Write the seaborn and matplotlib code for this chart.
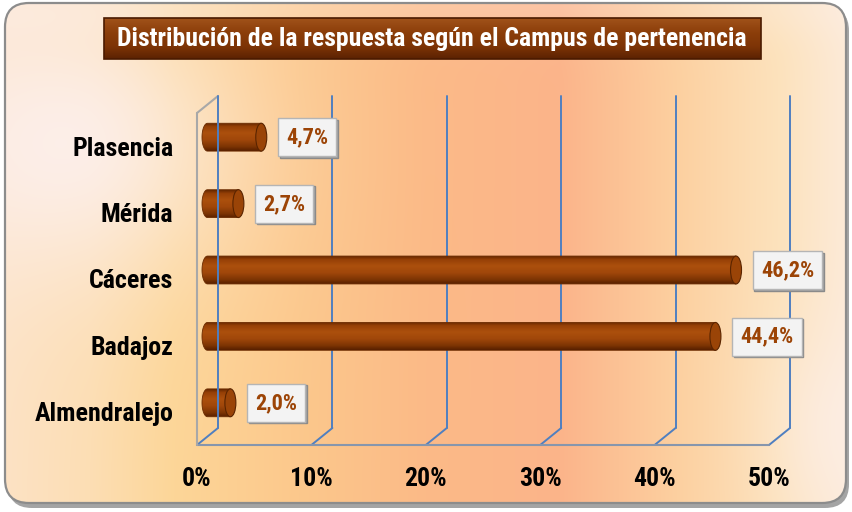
import numpy as np
import matplotlib
matplotlib.use('Agg')
import matplotlib.pyplot as plt
import seaborn as sns
from matplotlib import font_manager
from matplotlib.patches import FancyBboxPatch, Rectangle, Ellipse, PathPatch
from matplotlib.path import Path

# Datos
campus = ['Plasencia', 'Mérida', 'Cáceres', 'Badajoz', 'Almendralejo']
porcentaje = [4.7, 2.7, 46.2, 44.4, 2.0]
etiquetas = ['4,7%', '2,7%', '46,2%', '44,4%', '2,0%']
ticks = [0, 10, 20, 30, 40, 50]
tick_labels = ['0%', '10%', '20%', '30%', '40%', '50%']
titulo = 'Distribución de la respuesta según el Campus de pertenencia'

# pick a condensed font if there is one
names = {f.name for f in font_manager.fontManager.ttflist}
narrow = 'Liberation Sans'
escala = 0.85
for cand in ['Liberation Sans Narrow', 'DejaVu Sans Condensed', 'Roboto Condensed']:
    if cand in names:
        narrow = cand
        escala = 1.0
        break

sns.set_theme(style='white')
plt.rcParams['font.family'] = [narrow, 'DejaVu Sans']

W, H = 852, 512
fig = plt.figure(figsize=(W / 100, H / 100), dpi=100)

# ---- background panel (pixel coords) ----
bg = fig.add_axes([0, 0, 1, 1])
bg.set_xlim(0, W)
bg.set_ylim(H, 0)
bg.axis('off')

xs = np.linspace(0, 1, W)
stops = [0.0, 0.1, 0.2, 0.35, 0.5, 0.66, 0.8, 0.92, 1.0]
cols = np.array([
    [253, 226, 196], [253, 222, 180], [253, 214, 152], [252, 200, 140],
    [251, 186, 135], [251, 180, 138], [253, 208, 160], [253, 226, 188],
    [253, 234, 215]]) / 255.0
base = np.stack([np.interp(xs, stops, cols[:, k]) for k in range(3)], axis=1)
img = np.repeat(base[None, :, :], H, axis=0)
yy, xx = np.mgrid[0:1:H * 1j, 0:1:W * 1j]
glow = 0.8 * np.exp(-((xx - 0.08) / 0.2) ** 2 - ((yy - 0.28) / 0.28) ** 2)
glow += 0.25 * np.exp(-(yy / 0.07) ** 2)
glow += 0.4 * np.exp(-((xx - 0.98) / 0.08) ** 2 - ((yy - 0.85) / 0.2) ** 2)
glow = np.clip(glow, 0, 0.85)[:, :, None]
tint = np.array([252, 242, 244]) / 255.0
img = img * (1 - glow) + tint * glow

sombra = FancyBboxPatch((8, 7), 841, 501, boxstyle='round,pad=0,rounding_size=24',
                        fc='#5a5a5a', ec='none', alpha=0.55)
bg.add_patch(sombra)
panel = FancyBboxPatch((5, 3), 841, 500, boxstyle='round,pad=0,rounding_size=24',
                       fc='none', ec='#8c8c8c', lw=1.6, zorder=3)
bg.add_patch(panel)
im = bg.imshow(img, extent=[5, 846, 503, 3], aspect='auto', zorder=2)
im.set_clip_path(panel)

# title box
tcol = np.array([[160, 82, 26], [140, 62, 10], [125, 52, 6], [92, 34, 2]]) / 255.0
tgrad = np.stack([np.interp(np.linspace(0, 1, 40), [0, 0.35, 0.7, 1], tcol[:, k])
                  for k in range(3)], axis=1)[:, None, :]
bg.imshow(tgrad, extent=[104, 761, 59, 18], aspect='auto', zorder=4)
bg.add_patch(Rectangle((104, 18), 657, 41, fc='none', ec='#4a1a00', lw=1.2, zorder=5))
bg.text(432, 39, titulo, ha='center', va='center', color='white',
        fontsize=18.5 * escala, fontweight='bold', zorder=6)
bg.set_xlim(0, W)
bg.set_ylim(H, 0)

# ---- main plot ----
L, R, T, B = 197, 769, 113, 445
ax = fig.add_axes([L / W, 1 - B / H, (R - L) / W, (B - T) / H])
ax.patch.set_alpha(0)

sns.barplot(x=porcentaje, y=campus, orient='h', width=0.42, color='#a34a0a', ax=ax)
ax.set_xlim(0, 50)
ax.set_ylim(4.5, -0.5)

px_x = (R - L) / 50.0      # pixels per unit in x
px_y = (B - T) / 5.0       # pixels per category
dx, dy = 21 / px_x, -17 / px_y          # depth of the 3D box
mdx, mdy = 10.5 / px_x, -9 / px_y       # bars sit half way in

# back wall gridlines and floor
azul = '#4f7fc0'
for t in ticks:
    ax.plot([t + dx, t + dx], [4.5 + dy, -0.5 + dy], color=azul, lw=1.4,
            clip_on=False, zorder=1 if t else 6)
    ax.plot([t, t + dx], [4.5, 4.5 + dy], color=azul, lw=1.4, clip_on=False, zorder=1)
ax.plot([0, 50], [4.5, 4.5], color='#8696ad', lw=1.5, clip_on=False, zorder=1)
ax.plot([0, 0], [4.5, -0.5], color='#a8a8a8', lw=1.5, clip_on=False, zorder=1)
ax.plot([0, dx], [-0.5, -0.5 + dy], color='#a8a8a8', lw=1.5, clip_on=False, zorder=1)

# cylinders
ccol = np.array([[104, 40, 0], [150, 64, 6], [172, 80, 13], [160, 71, 10],
                 [124, 52, 3], [88, 32, 0]]) / 255.0
cgrad = np.stack([np.interp(np.linspace(0, 1, 60), [0, 0.12, 0.35, 0.6, 0.85, 1],
                            ccol[:, k]) for k in range(3)], axis=1)[:, None, :]
rx = 5.5 / px_x
for i, p in enumerate(ax.patches):
    p.set_facecolor('none')
    p.set_edgecolor('none')
    x0, w, h = p.get_x(), p.get_width(), p.get_height()
    yc = p.get_y() + h / 2 + mdy
    ry = h / 2
    xl, xr = x0 + mdx, x0 + w + mdx
    ang = np.linspace(np.pi / 2, 3 * np.pi / 2, 30)
    verts = [(xl + rx * np.cos(a), yc + ry * np.sin(a)) for a in ang]
    verts += [(xr, yc - ry), (xr, yc + ry), (xl, yc + ry)]
    cuerpo = PathPatch(Path(verts, closed=True), fc='none', ec='#6b2b00', lw=0.6, zorder=4)
    ax.add_patch(cuerpo)
    g = ax.imshow(cgrad, extent=[xl - rx, xr, yc + ry, yc - ry], aspect='auto', zorder=3)
    g.set_clip_path(cuerpo)
    ax.add_patch(Ellipse((xr, yc), 2 * rx, 2 * ry, fc='#9a4407', ec='#5a2400',
                         lw=0.8, zorder=5))

ax.set_xlim(0, 50)
ax.set_ylim(4.5, -0.5)

# data labels (grey copy underneath gives the bevel shadow)
for i, (v, lab) in enumerate(zip(porcentaje, etiquetas)):
    ax.annotate(lab, xy=(v, i), xytext=(26.5, 5.3), textcoords='offset points',
                ha='left', va='center', fontsize=16 * escala, fontweight='bold',
                color='#a3a3a3', zorder=7,
                bbox=dict(boxstyle='square,pad=0.36', fc='#a3a3a3', ec='#8a8a8a', lw=1))
    ax.annotate(lab, xy=(v, i), xytext=(25.5, 6.3), textcoords='offset points',
                ha='left', va='center', fontsize=16 * escala, fontweight='bold',
                color='#9c4406', zorder=8,
                bbox=dict(boxstyle='square,pad=0.36', fc='#f3f3f3', ec='#b5b5b5', lw=1))

ax.set_xticks(ticks, tick_labels)
ax.tick_params(axis='x', length=0, pad=16, labelsize=18.5 * escala)
ax.tick_params(axis='y', length=0, pad=17, labelsize=18.7 * escala)
for lab in ax.get_xticklabels() + ax.get_yticklabels():
    lab.set_fontweight('bold')
    lab.set_color('black')
ax.set_xlabel('')
ax.set_ylabel('')
sns.despine(ax=ax, left=True, bottom=True)
ax.grid(False)

fig.savefig('out.png', dpi=100)
